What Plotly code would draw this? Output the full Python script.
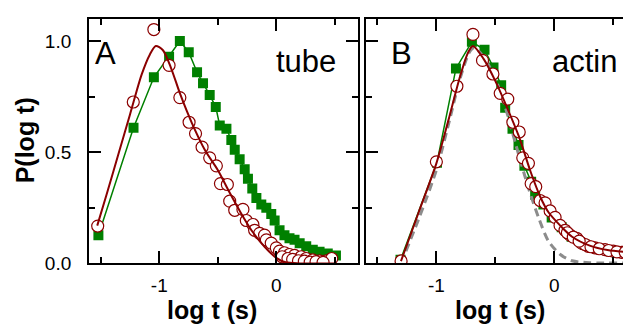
import plotly.graph_objects as go

# ---------------- Panel A (tube) ----------------
a_sq_x = [-1.52, -1.22, -1.046, -0.916, -0.824, -0.748, -0.677, -0.626, -0.569, -0.517,
          -0.483, -0.426, -0.384, -0.355, -0.313, -0.27, -0.242, -0.205, -0.17, -0.128,
          -0.085, -0.043, -0.014, 0.028, 0.07, 0.113, 0.156, 0.2, 0.256, 0.312, 0.37, 0.44, 0.51]
a_sq_y = [0.127, 0.61, 0.837, 0.93, 1.0, 0.95, 0.86, 0.81, 0.758, 0.703,
          0.62, 0.606, 0.555, 0.511, 0.468, 0.424, 0.381, 0.337, 0.294, 0.265,
          0.25, 0.222, 0.193, 0.149, 0.127, 0.113, 0.106, 0.091, 0.077, 0.062, 0.052, 0.045, 0.036]

a_ci_x = [-1.526, -1.222, -1.046, -0.916, -0.824, -0.745, -0.69, -0.634, -0.569, -0.512,
          -0.477, -0.418, -0.398, -0.355, -0.285, -0.256, -0.2, -0.185, -0.142, -0.1,
          -0.085, -0.043, 0.0, 0.028, 0.07, 0.113, 0.156, 0.213, 0.256, 0.312, 0.37, 0.426, 0.474,
          0.05, 0.1, 0.14, 0.19, 0.24, 0.29, 0.34, 0.4]
a_ci_y = [0.168, 0.726, 1.052, 0.891, 0.746, 0.635, 0.584, 0.523, 0.475, 0.439,
          0.359, 0.355, 0.28, 0.239, 0.243, 0.193, 0.175, 0.149, 0.135, 0.127,
          0.106, 0.091, 0.07, 0.055, 0.048, 0.04, 0.036, 0.03, 0.022, 0.016, 0.011, 0.011, 0.022,
          0.03, 0.022, 0.018, 0.012, 0.01, 0.006, 0.008, 0.005]

a_fit_x = [-1.53, -1.45, -1.35, -1.25, -1.15, -1.08, -1.03, -0.97, -0.9, -0.82, -0.72,
           -0.61, -0.5, -0.4, -0.3, -0.2, -0.1, 0.0, 0.08, 0.2, 0.5]
a_fit_y = [0.17, 0.31, 0.49, 0.67, 0.85, 0.94, 0.978, 0.96, 0.88, 0.76, 0.63,
           0.51, 0.42, 0.32, 0.225, 0.14, 0.075, 0.025, 0.005, 0.0, 0.0]

# ---------------- Panel B (actin) ----------------
b_sq_x = [-1.304, -0.995, -0.834, -0.699, -0.592, -0.516, -0.451, -0.417, -0.355, -0.304,
          -0.254, -0.197, -0.163, -0.093, -0.023, 0.062, 0.146, 0.259, 0.372, 0.484, 0.598]
b_sq_y = [0.016, 0.453, 0.877, 0.997, 0.961, 0.881, 0.801, 0.7, 0.606, 0.533,
          0.439, 0.367, 0.309, 0.265, 0.207, 0.163, 0.12, 0.084, 0.065, 0.055, 0.048]

b_ci_x = [-1.299, -1.0, -0.826, -0.69, -0.609, -0.521, -0.459, -0.395, -0.352, -0.298,
          -0.268, -0.22, -0.197, -0.158, -0.121, -0.079, -0.036, 0.006, 0.048, 0.09,
          0.133, 0.189, 0.231, 0.287, 0.344, 0.429, 0.499, 0.569, 0.625,
          0.26, 0.31, 0.38, 0.46, 0.53, 0.6, 0.11, 0.16, 0.21]
b_ci_y = [0.011, 0.457, 0.797, 1.03, 0.913, 0.852, 0.765, 0.739, 0.635, 0.591,
          0.475, 0.45, 0.359, 0.345, 0.283, 0.272, 0.236, 0.207, 0.171, 0.149,
          0.127, 0.113, 0.091, 0.077, 0.07, 0.062, 0.055, 0.05, 0.048,
          0.085, 0.075, 0.066, 0.058, 0.052, 0.05, 0.138, 0.118, 0.1]

b_fit_x = [-1.3, -1.15, -1.0, -0.9, -0.8, -0.73, -0.69, -0.6, -0.5, -0.4, -0.3, -0.2,
           -0.12, -0.05, 0.05, 0.15, 0.3, 0.45, 0.7]
b_fit_y = [0.01, 0.23, 0.45, 0.64, 0.84, 0.95, 0.978, 0.92, 0.82, 0.7, 0.57, 0.41,
           0.3, 0.23, 0.17, 0.12, 0.08, 0.06, 0.047]

b_gauss_x = [-1.3, -1.15, -1.0, -0.9, -0.8, -0.72, -0.68, -0.6, -0.5, -0.42, -0.33, -0.22,
             -0.13, -0.05, 0.05, 0.15, 0.3, 0.7]
b_gauss_y = [0.0, 0.2, 0.42, 0.62, 0.83, 0.95, 0.97, 0.93, 0.83, 0.71, 0.54, 0.34,
             0.2, 0.1, 0.04, 0.012, 0.003, 0.003]

y_tickvals = [0, 0.5, 1.0]
y_ticktext = ["0.0", "0.5", "1.0"]
x_tickvals = [-1, 0]
x_ticktext = ["-1", "0"]

GREEN = "#008000"
RED = "#8b0000"
GREY = "#8c8c8c"
FONT = "Liberation Sans, Arial, sans-serif"

fig = go.Figure()

# Panel A
fig.add_trace(go.Scatter(x=a_sq_x, y=a_sq_y, mode="lines+markers", xaxis="x", yaxis="y",
                         line=dict(color=GREEN, width=1.5),
                         marker=dict(symbol="square", size=10, color=GREEN)))
fig.add_trace(go.Scatter(x=a_ci_x, y=a_ci_y, mode="markers", xaxis="x", yaxis="y",
                         marker=dict(symbol="circle", size=12, color="white",
                                     line=dict(color=RED, width=1.2))))
fig.add_trace(go.Scatter(x=a_fit_x, y=a_fit_y, mode="lines", xaxis="x", yaxis="y",
                         line=dict(color=RED, width=2, shape="spline", smoothing=0.8)))

# Panel B
fig.add_trace(go.Scatter(x=b_sq_x, y=b_sq_y, mode="lines+markers", xaxis="x2", yaxis="y2",
                         line=dict(color=GREEN, width=1.5),
                         marker=dict(symbol="square", size=10, color=GREEN)))
fig.add_trace(go.Scatter(x=b_gauss_x, y=b_gauss_y, mode="lines", xaxis="x2", yaxis="y2",
                         line=dict(color=GREY, width=3, dash="8px,5px", shape="spline", smoothing=0.8)))
fig.add_trace(go.Scatter(x=b_ci_x, y=b_ci_y, mode="markers", xaxis="x2", yaxis="y2",
                         marker=dict(symbol="circle", size=12, color="white",
                                     line=dict(color=RED, width=1.2))))
fig.add_trace(go.Scatter(x=b_fit_x, y=b_fit_y, mode="lines", xaxis="x2", yaxis="y2",
                         line=dict(color=RED, width=2, shape="spline", smoothing=0.8)))

W, H = 631, 327
XOFF = 8  # page body margin shifts the figure right


def px_x(v):
    return (v - XOFF) / W


def px_y(v):
    return 1 - v / H


ybot = px_y(264.3)
ytop = px_y(11.7)

common_x = dict(tickvals=x_tickvals, ticktext=x_ticktext, ticks="inside", ticklen=12,
                tickwidth=1.5, tickcolor="black", showline=True, linecolor="black", linewidth=2,
                mirror="ticks", showgrid=False, zeroline=False, ticklabelstandoff=4,
                tickfont=dict(family=FONT, size=19, color="black"),
                minor=dict(tickvals=[-1.5, -0.5, 0.5], ticks="inside", ticklen=6,
                           tickwidth=1.5, tickcolor="black", showgrid=False))
common_y = dict(tickvals=y_tickvals, ticktext=y_ticktext, ticks="inside", ticklen=12,
                tickwidth=1.5, tickcolor="black", linecolor="black", linewidth=2,
                showline=True, mirror="ticks",
                showgrid=False, zeroline=False, range=[0, 1.098],
                domain=[ybot, ytop],
                minor=dict(tickvals=[0.25, 0.75], ticks="inside", ticklen=6,
                           tickwidth=1.5, tickcolor="black", showgrid=False))

fig.update_layout(
    width=W, height=H, margin=dict(l=0, r=0, t=0, b=0),
    paper_bgcolor="white", plot_bgcolor="white", showlegend=False,
    xaxis=dict(common_x, domain=[px_x(89.3), px_x(359.3)], range=[-1.6, 0.7], anchor="y"),
    yaxis=dict(common_y, anchor="x",
               ticklabelstandoff=12, tickfont=dict(family=FONT, size=19, color="black")),
    xaxis2=dict(common_x, domain=[px_x(366.7), 1.0], range=[-1.6, 0.7], anchor="y2"),
    yaxis2=dict(common_y, anchor="x2", showticklabels=False),
)

ann_font_big = dict(family=FONT, size=31, color="black")
title_font = dict(family=FONT, size=25, color="black")

fig.add_annotation(x=px_x(93), y=px_y(27), xref="paper", yref="paper", text="A",
                   showarrow=False, xanchor="left", yanchor="top", font=ann_font_big)
fig.add_annotation(x=px_x(339), y=px_y(35), xref="paper", yref="paper", text="tube",
                   showarrow=False, xanchor="right", yanchor="top", font=ann_font_big)
fig.add_annotation(x=px_x(390), y=px_y(27), xref="paper", yref="paper", text="B",
                   showarrow=False, xanchor="left", yanchor="top", font=ann_font_big)
fig.add_annotation(x=px_x(621), y=px_y(35), xref="paper", yref="paper", text="actin",
                   showarrow=False, xanchor="right", yanchor="top", font=ann_font_big)

fig.add_annotation(x=px_x(212.5), y=px_y(313), xref="paper", yref="paper",
                   text="<b>log t (s)</b>", showarrow=False, xanchor="center", yanchor="middle",
                   font=title_font)
fig.add_annotation(x=px_x(502), y=px_y(313), xref="paper", yref="paper",
                   text="<b>log t (s)</b>", showarrow=False, xanchor="center", yanchor="middle",
                   font=title_font)
fig.add_annotation(x=px_x(25), y=px_y(137), xref="paper", yref="paper",
                   text="<b>P(log t)</b>", showarrow=False, xanchor="center", yanchor="middle",
                   textangle=-90, font=title_font)

fig.write_html("out.html", config={"displayModeBar": False})
